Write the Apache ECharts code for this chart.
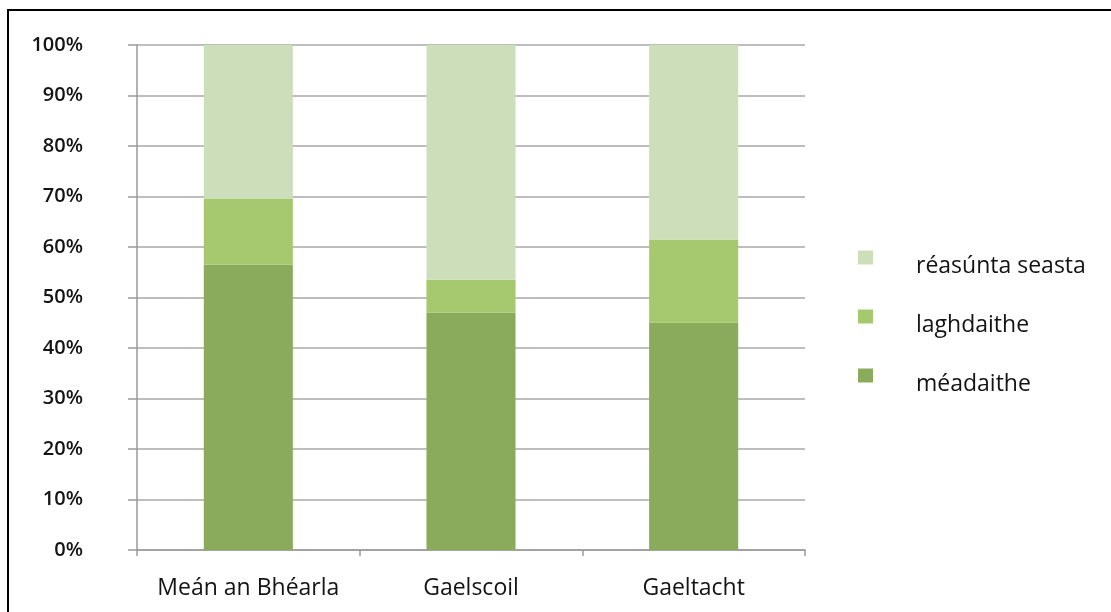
<!DOCTYPE html>
<html>
<head>
<meta charset="utf-8">
<script src="https://cdn.jsdelivr.net/npm/echarts@6/dist/echarts.min.js"></script>
<style>
  html, body { margin: 0; padding: 0; background: #fff; }
  #frame { position: absolute; left: 7px; top: 9px; right: 0; bottom: 0; border-top: 2px solid #000; border-left: 2px solid #000; }
  #chart { position: absolute; left: 0; top: 0; width: 1111px; height: 612px; }
</style>
</head>
<body>
<div id="chart"></div>
<div id="frame"></div>
<script>
// categories and series (percent)
const categories = ["Meán an Bhéarla", "Gaelscoil", "Gaeltacht"];
const meadaithe = [56.5, 47, 45];
const laghdaithe = [13, 6.5, 16.5];
const reasuntaSeasta = [30.5, 46.5, 38.5];
const legendOrder = ["réasúnta seasta", "laghdaithe", "méadaithe"];

const font = "Open Sans";
const chart = echarts.init(document.getElementById("chart"));

const bar = (name, data, color) => ({
  name: name,
  type: "bar",
  stack: "total",
  data: data,
  barWidth: "40%",
  itemStyle: { color: color },
  emphasis: { disabled: true }
});

chart.setOption({
  animation: false,
  grid: { left: 137, right: 306, top: 45, bottom: 62 },
  legend: {
    orient: "vertical",
    left: 858,
    top: 237,
    padding: 0,
    itemWidth: 15,
    itemHeight: 14,
    itemGap: 18,
    icon: "rect",
    data: legendOrder,
    // empty first line pushes the label below the swatch, as in the original
    formatter: name => "\n" + name,
    textStyle: { fontFamily: font, fontSize: 23, lineHeight: 18, color: "#141414", padding: [0, 0, 0, 38] }
  },
  xAxis: {
    type: "category",
    data: categories,
    axisLine: { lineStyle: { color: "#9a9a9a", width: 1.5 } },
    axisTick: { show: true, length: 6, lineStyle: { color: "#9a9a9a", width: 1.5 } },
    axisLabel: { interval: 0, hideOverlap: false, fontFamily: font, fontSize: 23, color: "#141414", margin: 27 }
  },
  yAxis: {
    type: "value",
    min: 0,
    max: 100,
    interval: 10,
    axisLine: { show: true, lineStyle: { color: "#9a9a9a", width: 1.5 } },
    axisTick: { show: true, length: 9, lineStyle: { color: "#9a9a9a", width: 1.5 } },
    splitLine: { lineStyle: { color: "#a8a8a8", width: 1.5 } },
    axisLabel: { fontFamily: font, fontSize: 20, fontWeight: 600, color: "#141414", margin: 54, formatter: "{value}%" }
  },
  series: [
    bar("méadaithe", meadaithe, "#8aab5b"),
    bar("laghdaithe", laghdaithe, "#a6c86f"),
    bar("réasúnta seasta", reasuntaSeasta, "#cddfba")
  ]
});
</script>
</body>
</html>
